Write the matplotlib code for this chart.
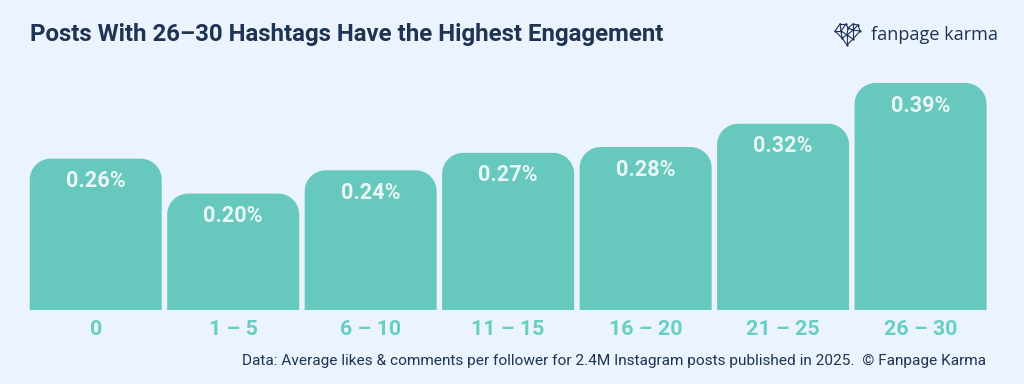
import matplotlib
matplotlib.use("Agg")
import matplotlib.pyplot as plt
from matplotlib.path import Path
from matplotlib.patches import PathPatch

categories = ["0", "1 – 5", "6 – 10", "11 – 15", "16 – 20", "21 – 25", "26 – 30"]
values = [0.26, 0.20, 0.24, 0.27, 0.28, 0.32, 0.39]
value_labels = ["0.26%", "0.20%", "0.24%", "0.27%", "0.28%", "0.32%", "0.39%"]
title = "Posts With 26–30 Hashtags Have the Highest Engagement"
footer = "Data: Average likes & comments per follower for 2.4M Instagram posts published in 2025.  © Fanpage Karma"
brand = "fanpage karma"

BG = "#EAF3FE"
BAR = "#67C8BD"
TICK = "#67CFC2"
NAVY = "#1F3352"
W, H = 1024, 384

plt.rcParams["font.family"] = ["Roboto", "DejaVu Sans"]
fig = plt.figure(figsize=(W / 100, H / 100), dpi=100, facecolor=BG)

# Plot axes placed in pixel terms
px_left, px_right, px_base, px_top = 27.0, 989.3, 310.0, 60.0
ax = fig.add_axes([px_left / W, 1 - px_base / H, (px_right - px_left) / W, (px_base - px_top) / H])
ax.set_facecolor("none")
ax.set_xlim(-0.5, len(values) - 0.5)
y_per_px = 1 / 582.0
ax.set_ylim(0, (px_base - px_top) * y_per_px)
x_per_px = len(values) / (px_right - px_left)
bar_w = 132 * x_per_px
rx, ry = 21 * x_per_px, 21 * y_per_px
K = 0.5523  # circular-arc control factor


def rounded_top(i, v):
    l, r = i - bar_w / 2, i + bar_w / 2
    verts = [(l, 0), (l, v - ry),
             (l, v - ry * (1 - K)), (l + rx * (1 - K), v), (l + rx, v),
             (r - rx, v),
             (r - rx * (1 - K), v), (r, v - ry * (1 - K)), (r, v - ry),
             (r, 0), (l, 0)]
    codes = [Path.MOVETO, Path.LINETO,
             Path.CURVE4, Path.CURVE4, Path.CURVE4,
             Path.LINETO,
             Path.CURVE4, Path.CURVE4, Path.CURVE4,
             Path.LINETO, Path.CLOSEPOLY]
    return Path(verts, codes)


for i, (v, lab) in enumerate(zip(values, value_labels)):
    ax.add_patch(PathPatch(rounded_top(i, v), facecolor=BAR, edgecolor="none", lw=0))
    ax.annotate(lab, (i, v), xytext=(0, -22.6 * 0.72), textcoords="offset points", ha="center", va="center",
                color="#EAF6F6", fontsize=15.6, fontweight="semibold")

ax.set_xticks(range(len(categories)), categories)
ax.set_yticks([])
ax.tick_params(axis="x", length=0, pad=7.5, labelsize=15.4, labelcolor=TICK)
for t in ax.get_xticklabels():
    t.set_fontweight("semibold")
for s in ax.spines.values():
    s.set_visible(False)

fig.text(30 / W, 1 - 34 / H, title, ha="left", va="center", fontsize=17.27, fontweight="bold", color=NAVY)
fig.text(986 / W, 1 - 361 / H, footer, ha="right", va="center", fontsize=11.07, color=NAVY)
fig.text(871 / W, 1 - 35.5 / H, brand, ha="left", va="center", fontsize=13.1, color=NAVY, family="Open Sans")

# Brand logo: small heart mesh, drawn in pixel coordinates
lax = fig.add_axes([0, 0, 1, 1])
lax.set_xlim(0, W)
lax.set_ylim(H, 0)
lax.axis("off")
nodes = {"a": (835, 31), "b": (840, 24), "c": (846, 24), "d": (848, 28), "e": (853, 24), "f": (858, 25),
         "g": (860, 31), "h": (853, 39), "i": (847, 45), "j": (842, 38), "k": (841, 31), "l": (853, 30), "m": (847, 35)}
edges = ["ab", "bc", "cd", "de", "ef", "fg", "gh", "hi", "ij", "ja", "bk", "ck", "ka", "kj", "km", "dm", "dl",
         "el", "fl", "gl", "hl", "ml", "mj", "mi", "mh"]
for e in edges:
    (x0, y0), (x1, y1) = nodes[e[0]], nodes[e[1]]
    lax.plot([x0, x1], [y0, y1], color=NAVY, lw=0.8, solid_capstyle="round")
for x, y in nodes.values():
    lax.plot([x], [y], "o", color=NAVY, ms=1.6, mew=0)

fig.savefig("out.png", dpi=100, facecolor=BG)
